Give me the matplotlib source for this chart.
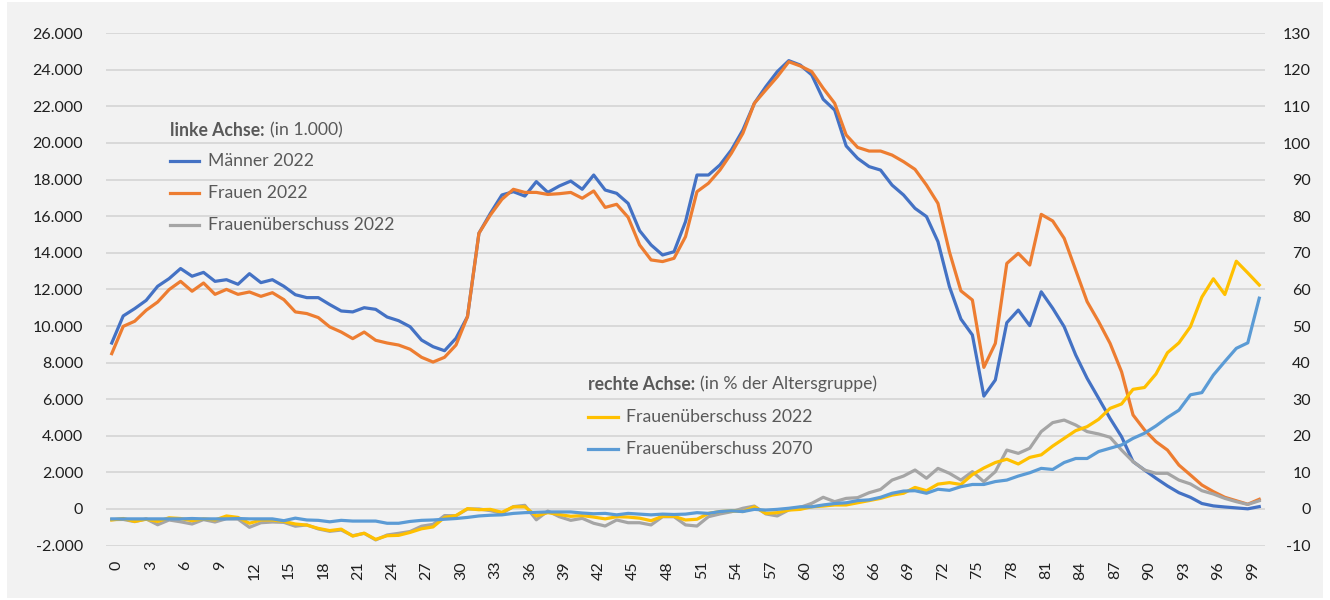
import matplotlib
matplotlib.use('Agg')
import matplotlib.pyplot as plt
import matplotlib.transforms as mtransforms
from matplotlib.ticker import FuncFormatter
from matplotlib.patches import Rectangle
from matplotlib.lines import Line2D

# ---------------- data ----------------
ages = list(range(101))

maenner_2022 = [9070, 10550, 10950, 11400, 12170, 12590, 13140, 12720, 12930, 12440,
                12530, 12280, 12860, 12370, 12530, 12170, 11710, 11550, 11550, 11170,
                10820, 10770, 11000, 10910, 10490, 10290, 9960, 9230, 8870, 8650,
                9330, 10510, 15070, 16160, 17160, 17340, 17100, 17890, 17300, 17650,
                17920, 17470, 18250, 17430, 17250, 16700, 15210, 14430, 13880, 14060,
                15700, 18250, 18250, 18800, 19620, 20710, 22170, 23080, 23900, 24500,
                24260, 23720, 22390, 21800, 19840, 19160, 18710, 18520, 17700, 17160,
                16430, 15980, 14610, 12150, 10380, 9510, 6170, 7050, 10180, 10870,
                10020, 11870, 10970, 9960, 8420, 7140, 6050, 4950, 3950, 2590,
                2130, 1680, 1260, 890, 640, 300, 170, 110, 60, 10, 130]

frauen_2022 = [8490, 9980, 10260, 10860, 11310, 11990, 12440, 11900, 12350, 11730,
               12000, 11730, 11860, 11620, 11820, 11440, 10770, 10680, 10460, 9950,
               9670, 9310, 9670, 9220, 9070, 8960, 8730, 8290, 8030, 8290,
               8960, 10510, 15070, 16070, 16920, 17470, 17300, 17300, 17190, 17230,
               17300, 16980, 17380, 16480, 16650, 15940, 14430, 13610, 13520, 13700,
               14880, 17340, 17800, 18520, 19440, 20530, 22170, 22900, 23620, 24440,
               24210, 23900, 22990, 22170, 20440, 19760, 19560, 19560, 19340, 18980,
               18560, 17700, 16700, 14050, 11920, 11420, 7740, 9050, 13420, 13970,
               13330, 16100, 15740, 14790, 13060, 11330, 10240, 9050, 7500, 5140,
               4320, 3680, 3220, 2400, 1860, 1310, 950, 640, 450, 260, 530]

ueberschuss_2022_abs = [-580, -570, -690, -540, -860, -600, -700, -820, -580, -710,
                        -530, -550, -1000, -750, -710, -730, -940, -870, -1090, -1220,
                        -1150, -1460, -1330, -1690, -1420, -1330, -1230, -940, -840, -360,
                        -370, 0, 0, -90, -240, 130, 200, -590, -110, -420,
                        -620, -510, -780, -930, -600, -750, -750, -870, -420, -420,
                        -870, -930, -420, -270, -150, 40, 160, -270, -380, -50,
                        90, 310, 640, 400, 580, 620, 890, 1070, 1580, 1800,
                        2130, 1680, 2220, 1950, 1580, 2040, 1490, 2040, 3220, 3040,
                        3320, 4230, 4720, 4860, 4590, 4230, 4100, 3920, 3220, 2590,
                        2130, 1950, 1950, 1580, 1370, 1000, 820, 580, 400, 250, 450]

ueberschuss_2022_pct = [-3.0, -2.6, -3.4, -2.8, -3.4, -2.4, -2.6, -3.2, -2.7, -3.0,
                        -1.9, -2.3, -3.9, -3.0, -3.0, -3.4, -4.1, -4.4, -5.3, -5.9,
                        -5.5, -7.4, -6.6, -8.3, -7.3, -7.2, -6.4, -5.4, -4.9, -2.3,
                        -1.8, 0.1, -0.2, -0.1, -0.9, 0.6, 0.6, -1.9, -1.0, -1.5,
                        -2.0, -1.8, -2.2, -2.7, -2.1, -2.2, -2.5, -3.2, -2.0, -2.0,
                        -3.0, -2.8, -1.2, -0.7, -0.5, -0.7, 0.6, -1.2, -1.0, -0.3,
                        -0.1, 0.6, 0.8, 1.1, 1.1, 1.7, 2.3, 2.9, 3.8, 4.3,
                        5.9, 5.0, 6.8, 7.2, 6.7, 9.4, 11.2, 12.7, 13.6, 12.3,
                        14.1, 14.8, 17.2, 19.3, 21.4, 22.5, 24.5, 27.5, 28.7, 32.7,
                        33.2, 36.9, 42.7, 45.4, 49.8, 57.9, 62.9, 58.6, 67.7, 64.5, 61.2]

ueberschuss_2070_pct = [-2.7, -2.7, -2.7, -2.7, -2.7, -2.7, -2.7, -2.6, -2.7, -2.7,
                        -2.7, -2.6, -2.7, -2.7, -2.7, -3.2, -2.5, -3.0, -3.1, -3.5,
                        -3.1, -3.3, -3.3, -3.3, -3.9, -3.9, -3.4, -3.1, -3.0, -2.8,
                        -2.6, -2.3, -1.9, -1.7, -1.6, -1.2, -1.0, -0.9, -0.8, -0.8,
                        -0.8, -1.1, -1.3, -1.2, -1.6, -1.2, -1.4, -1.6, -1.4, -1.5,
                        -1.4, -1.0, -1.2, -0.7, -0.5, -0.7, -0.1, -0.3, -0.1, 0.2,
                        0.6, 0.6, 1.1, 1.5, 1.7, 2.3, 2.5, 3.2, 4.3, 4.9,
                        5.0, 4.3, 5.4, 5.1, 6.1, 6.7, 6.7, 7.5, 7.9, 9.0,
                        9.9, 11.1, 10.8, 12.7, 13.8, 13.8, 15.7, 16.6, 17.5, 19.3,
                        20.7, 22.7, 25.0, 27.0, 31.2, 31.8, 36.6, 40.3, 43.9, 45.4, 57.6]

x_ticks = list(range(0, 100, 3))
left_ticks = list(range(-2000, 26001, 2000))
right_ticks = list(range(-10, 131, 10))

labels_left = ["Männer 2022", "Frauen 2022", "Frauenüberschuss 2022"]
labels_right = ["Frauenüberschuss 2022", "Frauenüberschuss 2070"]

# ---------------- style ----------------
plt.rcParams['font.family'] = ['Lato', 'DejaVu Sans']

C_MEN = '#4472C4'
C_WOMEN = '#ED7D31'
C_GRAY = '#A5A5A5'
C_YELLOW = '#FFC000'
C_2070 = '#5B9BD5'
TXT = '#595959'
TICK = '#1f1f1f'
LW = 2.3

W, H = 1330, 600
fig = plt.figure(figsize=(W / 100, H / 100), dpi=100, facecolor='white')
fig.patches.append(Rectangle((7 / W, 2 / H), 1316 / W, 596 / H, transform=fig.transFigure,
                             facecolor='#F2F2F2', edgecolor='none', zorder=-10))

ax = fig.add_axes([106 / W, 54.4 / H, 1159 / W, 512.4 / H])
ax.set_facecolor('none')
ax2 = ax.twinx()
ax2.set_facecolor('none')

ax.plot(ages, maenner_2022, color=C_MEN, lw=LW, solid_joinstyle='round', zorder=3)
ax.plot(ages, frauen_2022, color=C_WOMEN, lw=LW, solid_joinstyle='round', zorder=4)
ax.plot(ages, ueberschuss_2022_abs, color=C_GRAY, lw=LW, solid_joinstyle='round', zorder=5)
ax2.plot(ages, ueberschuss_2022_pct, color=C_YELLOW, lw=LW, solid_joinstyle='round', zorder=3)
ax2.plot(ages, ueberschuss_2070_pct, color=C_2070, lw=LW, solid_joinstyle='round', zorder=4)

ax.set_xlim(-0.5, 100.5)
ax.set_ylim(-2000, 26000)
ax2.set_ylim(-10, 130)

ax.set_yticks(left_ticks)
ax2.set_yticks(right_ticks)
ax.set_xticks(x_ticks)
ax.set_xticklabels([str(t) for t in x_ticks], rotation=90, va='top', ha='center')

ax.yaxis.set_major_formatter(FuncFormatter(lambda v, p: f"{int(round(v)):,}".replace(",", ".")))
ax2.yaxis.set_major_formatter(FuncFormatter(lambda v, p: f"{int(round(v))}"))

ax.yaxis.grid(True, color='#D9D9D9', lw=1.4)
ax.set_axisbelow(True)

for a in (ax, ax2):
    for s in a.spines.values():
        s.set_visible(False)

ax.tick_params(axis='y', length=0, pad=16.5, labelsize=11.5, labelcolor=TICK)
ax.tick_params(axis='x', length=0, pad=11, labelsize=11.5, labelcolor=TICK)
ax2.tick_params(axis='y', length=0, pad=33, labelsize=11.5, labelcolor=TICK)
for lab in ax2.get_yticklabels():
    lab.set_ha('right')

# small horizontal shift of the rotated category labels (as in the original rendering)
shift = mtransforms.ScaledTranslation(5 / 100, 0, fig.dpi_scale_trans)
for lab in ax.get_xticklabels():
    lab.set_transform(lab.get_transform() + shift)

# ---------------- legends ----------------
def fx(px):
    return px / W

def fy(py):
    return 1 - py / H

FS = 12.7
renderer = fig.canvas.get_renderer()

def title(xp, yp, bold, normal):
    t = fig.text(fx(xp), fy(yp), bold, fontsize=FS, fontweight='bold', color=TXT, va='center', ha='left')
    bb = t.get_window_extent(renderer=renderer)
    fig.text(fx(bb.x1 + 5), fy(yp), normal, fontsize=FS, color=TXT, va='center', ha='left')

def item(x0, x1, xt, yp, color, label):
    fig.add_artist(Line2D([fx(x0), fx(x1)], [fy(yp), fy(yp)], transform=fig.transFigure,
                          color=color, lw=LW))
    fig.text(fx(xt), fy(yp), label, fontsize=FS, color=TXT, va='center', ha='left')

title(170.5, 130, "linke Achse:", "(in 1.000)")
item(170, 199, 208, 161, C_MEN, labels_left[0])
item(170, 199, 208, 193, C_WOMEN, labels_left[1])
item(170, 199, 208, 225, C_GRAY, labels_left[2])

title(588, 384, "rechte Achse:", "(in % der Altersgruppe)")
item(588, 618, 626, 417, C_YELLOW, labels_right[0])
item(588, 618, 626, 449, C_2070, labels_right[1])

fig.savefig('out.png', dpi=100, facecolor=fig.get_facecolor())
